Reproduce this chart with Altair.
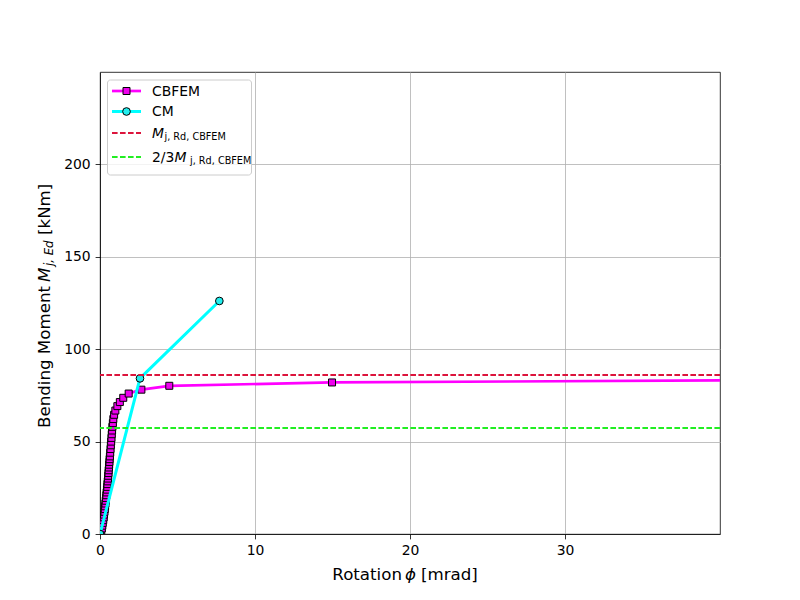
import altair as alt
import pandas as pd

FONT = "DejaVu Sans"

# ---- data ----
cbfem_rot = [0.0, 0.08, 0.12, 0.15, 0.18, 0.21, 0.24, 0.26, 0.29, 0.31, 0.33,
             0.35, 0.37, 0.39, 0.41, 0.43, 0.45, 0.47, 0.48, 0.50, 0.52, 0.53,
             0.55, 0.56, 0.58, 0.59, 0.61, 0.62, 0.64, 0.66, 0.68, 0.70, 0.72,
             0.74, 0.76, 0.78, 0.80, 0.83, 0.86, 0.91, 0.99, 1.12, 1.28, 1.50,
             1.85, 2.67, 4.47, 14.97, 50.0]
cbfem_mom = [0.0, 1.5, 3.0, 4.5, 6.0, 7.5, 9.0, 10.5, 12.0, 13.5, 15.0,
             16.5, 18.0, 19.5, 21.0, 22.5, 24.0, 25.5, 27.0, 28.5, 30.0, 31.5,
             33.0, 34.5, 36.0, 37.5, 39.0, 40.5, 42.0, 44.0, 46.0, 48.0, 50.0,
             52.0, 54.0, 56.0, 58.0, 60.0, 62.2, 64.5, 66.8, 69.2, 71.4, 73.7,
             76.0, 78.1, 80.2, 82.0, 83.6]
cm_rot = [0.0, 2.58, 7.7]
cm_mom = [0.0, 84.2, 126.1]
m_rd_cbfem = [86.0]
m_rd_cbfem_23 = [57.33]

x_ticks = [0, 10, 20, 30]
y_ticks = [0, 50, 100, 150, 200]

cb = pd.DataFrame({"rot": cbfem_rot, "mom": cbfem_mom, "order": list(range(len(cbfem_rot)))})
cm = pd.DataFrame({"rot": cm_rot, "mom": cm_mom, "order": list(range(len(cm_rot)))})
one = pd.DataFrame({"k": [0]})

MAG = "#ff00ff"
MAG_FILL = "#ee00ee"
CYA = "#00ffff"
CYA_FILL = "#22eeee"
RED = "#dc143c"
GRN = "#22ee22"
DASH = [5.6, 2.4]

xs = alt.Scale(domain=[0, 40], nice=False, zero=False)
ys = alt.Scale(domain=[0, 250], nice=False, zero=False)
xax = alt.Axis(values=x_ticks, title=None, grid=True, labelFlush=False, format="d")
yax = alt.Axis(values=y_ticks, title=None, grid=True, labelFlush=False, format="d")

X = alt.X("rot:Q", scale=xs, axis=xax)
Y = alt.Y("mom:Q", scale=ys, axis=yax)

cb_line = alt.Chart(cb).mark_line(color=MAG, strokeWidth=2.7, clip=True).encode(
    x=X, y=Y, order="order:Q")
cb_pts = alt.Chart(cb).mark_point(shape="square", filled=True, fill=MAG_FILL, stroke="black",
                                  strokeWidth=1, size=49, opacity=1, clip=True).encode(x=X, y=Y)
cm_line = alt.Chart(cm).mark_line(color=CYA, strokeWidth=3, clip=True).encode(
    x=X, y=Y, order="order:Q")
cm_pts = alt.Chart(cm).mark_point(shape="circle", filled=True, fill=CYA_FILL, stroke="black",
                                  strokeWidth=1, size=59, opacity=1, clip=True).encode(x=X, y=Y)

rd_rule = alt.Chart(pd.DataFrame({"mom": m_rd_cbfem})).mark_rule(
    color=RED, strokeWidth=2, strokeDash=DASH).encode(y=alt.Y("mom:Q", scale=ys))
rd23_rule = alt.Chart(pd.DataFrame({"mom": m_rd_cbfem_23})).mark_rule(
    color=GRN, strokeWidth=2, strokeDash=DASH).encode(y=alt.Y("mom:Q", scale=ys))


def txt(s, x, y, size=13.9, italic=False, align="left", angle=0, baseline="middle"):
    return alt.Chart(one).mark_text(
        text=s, font=FONT, fontSize=size, fontStyle="italic" if italic else "normal",
        align=align, baseline=baseline, angle=angle, color="black"
    ).encode(x=alt.value(x), y=alt.value(y))


def hline(x1, x2, y, color, width, dash=None):
    kw = dict(color=color, strokeWidth=width)
    if dash:
        kw["strokeDash"] = dash
    return alt.Chart(one).mark_rule(**kw).encode(x=alt.value(x1), x2=alt.value(x2), y=alt.value(y))


def marker(x, y, shape, fill, size):
    return alt.Chart(one).mark_point(shape=shape, filled=True, fill=fill, stroke="black",
                                     strokeWidth=1, size=size, opacity=1).encode(
        x=alt.value(x), y=alt.value(y))


legend_box = alt.Chart(one).mark_rect(
    fill="white", fillOpacity=0.8, stroke="#cccccc", strokeWidth=1, cornerRadius=3
).encode(x=alt.value(7.5), x2=alt.value(151.5), y=alt.value(8), y2=alt.value(103))

legend = [
    legend_box,
    hline(12, 41, 19, MAG, 2.7), marker(26.5, 19, "square", MAG_FILL, 49),
    txt("CBFEM", 52, 19.5),
    hline(12, 41, 39.5, CYA, 3), marker(26.5, 39.5, "circle", CYA_FILL, 59),
    txt("CM", 52, 40),
    hline(12, 41, 61, RED, 2, DASH),
    txt("M", 52, 61.5, italic=True),
    txt("j, Rd, CBFEM", 64.5, 64.5, size=9.7),
    hline(12, 41, 85, GRN, 2, DASH),
    txt("2/3", 52, 86),
    txt("M", 74.5, 86, italic=True),
    txt("j, Rd, CBFEM", 90, 89, size=9.7),
]

titles = [
    txt("Rotation", 302, 508, size=16.67, align="right", baseline="alphabetic"),
    txt("ϕ", 305, 508, size=16.67, italic=True, baseline="alphabetic"),
    txt("[mrad]", 321, 508, size=16.67, baseline="alphabetic"),
    txt("Bending Moment", -50.5, 214, size=16.67, align="right", angle=270, baseline="alphabetic"),
    txt("M", -50.5, 210, size=16.67, italic=True, angle=270, baseline="alphabetic"),
    txt("j, Ed", -47.5, 194, size=11.7, italic=True, angle=270, baseline="alphabetic"),
    txt("[kNm]", -50.5, 163, size=16.67, angle=270, baseline="alphabetic"),
]

chart = alt.layer(
    cb_line, cb_pts, cm_line, cm_pts, rd_rule, rd23_rule, *legend, *titles
).properties(
    width=620, height=462,
    autosize=alt.AutoSizeParams(type="none"),
    padding={"left": 92, "top": 64, "right": 72, "bottom": 58},
    background="white",
).configure_view(
    stroke="black", strokeWidth=0.8
).configure_axis(
    labelFont=FONT, labelFontSize=13.9, labelColor="black", labelPadding=4.9,
    tickColor="black", tickSize=4.9, tickWidth=0.8,
    domainColor="black", domainWidth=0.8,
    gridColor="#b0b0b0", gridWidth=0.8,
)

chart.save("out.html", embed_options={"renderer": "svg", "actions": False})
